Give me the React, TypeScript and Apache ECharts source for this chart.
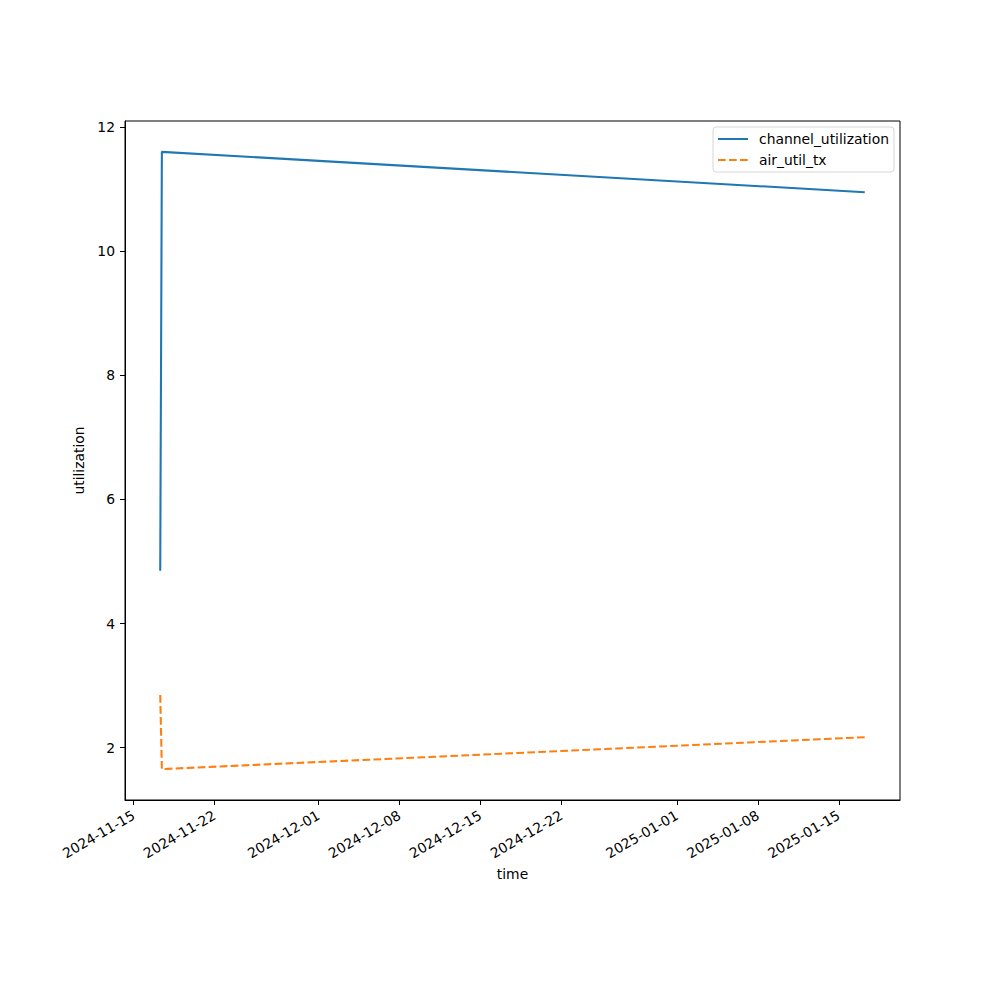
import React, { useEffect, useRef } from "react";
import * as echarts from "echarts";

const times = ["2024-11-17T07:25:00Z", "2024-11-17T10:50:00Z", "2025-01-17T06:00:00Z"];
const channelUtilization = [4.85, 11.6, 10.95];
const airUtilTx = [2.85, 1.655, 2.17];
const xTickLabels = [
  "2024-11-15",
  "2024-11-22",
  "2024-12-01",
  "2024-12-08",
  "2024-12-15",
  "2024-12-22",
  "2025-01-01",
  "2025-01-08",
  "2025-01-15",
];
const yTickValues = [2, 4, 6, 8, 10, 12];

const FONT = "DejaVu Sans";
const FS = 13.89;

export default function App() {
  const ref = useRef<HTMLDivElement>(null);
  useEffect(() => {
    if (!ref.current) return;
    const chart = echarts.init(ref.current, undefined, { renderer: "svg" });
    const xTicks = xTickLabels.map((s) => Date.parse(s + "T00:00:00Z"));
    const ts = times.map((s) => Date.parse(s));
    const pad = (v: { min: number; max: number }, sign: number) =>
      sign < 0 ? v.min - 0.05 * (v.max - v.min) : v.max + 0.05 * (v.max - v.min);
    const axisCommon = {
      axisLine: { show: true, onZero: false, lineStyle: { color: "#000", width: 1 } },
      axisTick: { show: true, length: 5, lineStyle: { color: "#000", width: 1 } },
      splitLine: { show: false },
    };
    chart.setOption({
      animation: false,
      backgroundColor: "#fff",
      textStyle: { fontFamily: FONT },
      grid: {
        left: 125,
        right: 100,
        top: 121,
        bottom: 200,
        show: true,
        borderColor: "#000",
        borderWidth: 1,
        backgroundColor: "transparent",
        containLabel: false,
        outerBoundsMode: "none",
      },
      legend: {
        orient: "vertical",
        left: 713,
        top: 127,
        padding: [5, 5, 5, 4],
        itemWidth: 30,
        itemHeight: 14,
        itemGap: 7,
        borderColor: "#d6d6d6",
        borderWidth: 1,
        borderRadius: 3,
        backgroundColor: "#fff",
        itemStyle: { opacity: 0 },
        textStyle: { fontFamily: FONT, fontSize: FS, color: "#000", padding: [0, 0, 0, 6] },
        data: ["channel_utilization", "air_util_tx"],
      },
      xAxis: {
        type: "value",
        min: (v: any) => pad(v, -1),
        max: (v: any) => pad(v, 1),
        name: "time",
        nameLocation: "middle",
        nameGap: 66,
        nameTextStyle: { fontFamily: FONT, fontSize: FS, color: "#000" },
        ...axisCommon,
        axisTick: { ...axisCommon.axisTick, customValues: xTicks },
        axisLabel: {
          customValues: xTicks,
          rotate: 30,
          margin: 14,
          fontFamily: FONT,
          fontSize: FS,
          color: "#000",
          formatter: (v: number) => new Date(v).toISOString().slice(0, 10),
        },
      },
      yAxis: {
        type: "value",
        min: (v: any) => pad(v, -1),
        max: (v: any) => pad(v, 1),
        name: "utilization",
        nameLocation: "middle",
        nameGap: 29,
        nameTextStyle: { fontFamily: FONT, fontSize: FS, color: "#000" },
        ...axisCommon,
        axisTick: { ...axisCommon.axisTick, customValues: yTickValues },
        axisLabel: {
          customValues: yTickValues,
          margin: 10,
          fontFamily: FONT,
          fontSize: FS,
          color: "#000",
        },
      },
      series: [
        {
          name: "channel_utilization",
          type: "line",
          symbol: "none",
          data: ts.map((t, i) => [t, channelUtilization[i]]),
          lineStyle: { color: "#1f77b4", width: 2.08 },
          itemStyle: { color: "#1f77b4" },
        },
        {
          name: "air_util_tx",
          type: "line",
          symbol: "none",
          data: ts.map((t, i) => [t, airUtilTx[i]]),
          lineStyle: { color: "#ff7f0e", width: 2.08, type: [7.7, 3.3] },
          itemStyle: { color: "#ff7f0e" },
        },
      ],
    });
    return () => chart.dispose();
  }, []);
  return (
    <div
      ref={ref}
      style={{ position: "fixed", left: 0, top: 0, width: 1000, height: 1000, background: "#fff" }}
    />
  );
}
